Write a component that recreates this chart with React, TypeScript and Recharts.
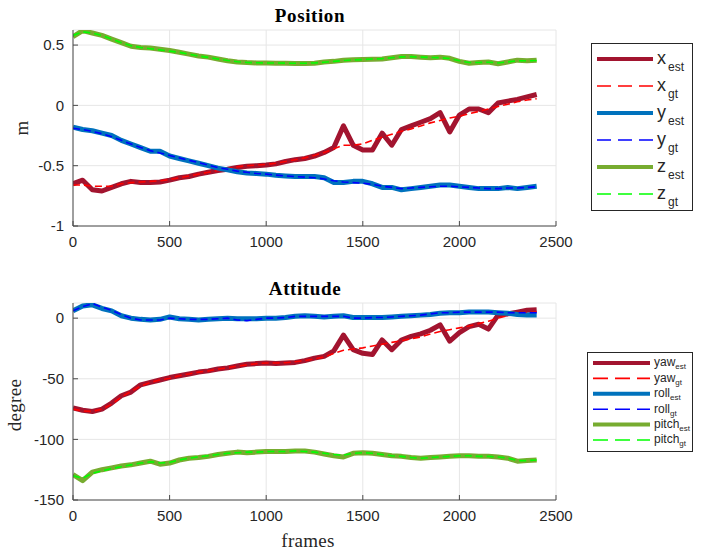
import { LineChart, Line, XAxis, YAxis, CartesianGrid } from 'recharts';

// frame index, sampled every 50 frames
const FRAMES = [
  0, 50, 100, 150, 200, 250, 300, 350, 400, 450, 500, 550, 600, 650, 700, 750, 800, 850, 900, 950,
  1000, 1050, 1100, 1150, 1200, 1250, 1300, 1350, 1400, 1450, 1500, 1550, 1600, 1650, 1700, 1750,
  1800, 1850, 1900, 1950, 2000, 2050, 2100, 2150, 2200, 2250, 2300, 2350, 2400,
];

// Position (m)
const X_EST = [
  -0.65, -0.62, -0.7, -0.71, -0.68, -0.65, -0.63, -0.64, -0.64, -0.635, -0.62, -0.6, -0.59, -0.57, -0.555,
  -0.54, -0.53, -0.515, -0.505, -0.5, -0.495, -0.485, -0.465, -0.45, -0.44, -0.42, -0.39, -0.35, -0.17,
  -0.33, -0.37, -0.37, -0.23, -0.33, -0.2, -0.17, -0.14, -0.11, -0.06, -0.22, -0.08, -0.03, -0.03, -0.06,
  0.02, 0.035, 0.05, 0.07, 0.09,
];
const X_GT = [
  -0.66, -0.66, -0.67, -0.67, -0.67, -0.65, -0.64, -0.635, -0.63, -0.625, -0.615, -0.6, -0.585, -0.57,
  -0.555, -0.54, -0.525, -0.51, -0.5, -0.495, -0.49, -0.48, -0.465, -0.45, -0.435, -0.415, -0.39, -0.36,
  -0.33, -0.33, -0.32, -0.29, -0.265, -0.24, -0.215, -0.195, -0.17, -0.145, -0.125, -0.105, -0.09, -0.07,
  -0.05, -0.03, -0.01, 0.01, 0.03, 0.045, 0.055,
];
const Y_EST = [
  -0.18, -0.2, -0.21, -0.23, -0.25, -0.29, -0.32, -0.35, -0.38, -0.38, -0.42, -0.44, -0.46, -0.48, -0.5,
  -0.52, -0.535, -0.55, -0.56, -0.565, -0.57, -0.58, -0.585, -0.59, -0.59, -0.59, -0.6, -0.64, -0.64,
  -0.63, -0.63, -0.65, -0.68, -0.68, -0.7, -0.69, -0.68, -0.67, -0.66, -0.66, -0.67, -0.68, -0.69, -0.69,
  -0.69, -0.68, -0.69, -0.68, -0.67,
];
const Y_GT = [
  -0.19, -0.2, -0.215, -0.235, -0.26, -0.29, -0.32, -0.35, -0.375, -0.395, -0.415, -0.435, -0.455, -0.475,
  -0.495, -0.515, -0.53, -0.545, -0.555, -0.565, -0.57, -0.578, -0.585, -0.59, -0.595, -0.6, -0.61,
  -0.625, -0.635, -0.64, -0.645, -0.655, -0.67, -0.68, -0.69, -0.685, -0.68, -0.675, -0.67, -0.67,
  -0.675, -0.68, -0.685, -0.69, -0.69, -0.685, -0.685, -0.68, -0.675,
];
const Z_EST = [
  0.57, 0.62, 0.6, 0.58, 0.55, 0.52, 0.49, 0.48, 0.475, 0.465, 0.455, 0.44, 0.425, 0.41, 0.4, 0.385, 0.37,
  0.36, 0.355, 0.352, 0.352, 0.35, 0.35, 0.348, 0.347, 0.35, 0.36, 0.365, 0.375, 0.378, 0.38, 0.383,
  0.385, 0.395, 0.405, 0.405, 0.4, 0.395, 0.4, 0.39, 0.365, 0.35, 0.355, 0.36, 0.345, 0.36, 0.375, 0.37,
  0.375,
];
const Z_GT = [
  0.58, 0.61, 0.6, 0.58, 0.55, 0.52, 0.495, 0.48, 0.47, 0.46, 0.45, 0.44, 0.425, 0.41, 0.398, 0.385, 0.372,
  0.362, 0.356, 0.353, 0.352, 0.351, 0.35, 0.349, 0.349, 0.352, 0.358, 0.365, 0.372, 0.377, 0.38, 0.384,
  0.388, 0.395, 0.402, 0.404, 0.4, 0.397, 0.396, 0.388, 0.37, 0.355, 0.356, 0.358, 0.352, 0.36, 0.37,
  0.37, 0.372,
];

// Attitude (degree)
const YAW_EST = [
  -74, -76, -77, -75, -70, -64, -61, -55, -53, -51, -49, -47.5, -46, -44.5, -43.5, -42, -41, -39.5, -38,
  -37.5, -37, -37.5, -37, -36.5, -35, -33, -31.5, -27, -14, -26, -29, -30, -18, -26, -18, -15, -13, -10,
  -5.5, -19, -12, -7, -5, -9, 2.5, 3.5, 5, 6.5, 7,
];
const YAW_GT = [
  -75, -76.5, -77, -75, -71, -65, -60.5, -56, -53, -51, -49.5, -47.5, -46, -44.5, -43.5, -42, -41, -39.5,
  -38.5, -37.5, -37, -37, -36.8, -36, -35, -33.5, -32, -29, -26.5, -25.5, -24.5, -23, -21.5, -20, -18.5,
  -17, -15.5, -13, -11, -9.5, -8, -6.5, -4.5, -2.5, 0, 2, 3.5, 4.5, 5,
];
const ROLL_EST = [
  6, 10, 11, 8, 6, 2, 0, -1, -1.5, -1, 1, -0.5, -1, -1.5, -1, -0.5, 0, -0.5, -0.5, -0.5, 0, 0, 0.5, 1.5, 2,
  1.5, 1, 1.5, 2, 0.5, 0.5, 0.5, 0.5, 1, 1.5, 2, 2.5, 3, 4, 4.5, 4.5, 5, 5, 5, 4.5, 4, 3, 2.5, 2.5,
];
const ROLL_GT = [
  6, 9.5, 12, 9, 6.5, 3, 0, -1.5, -1.5, -1.5, 0, -0.5, -1, -1, -1, -0.5, 0, -1.5, -2, -1, 0, 0, 0.5, 1.5,
  1.5, 1.5, 1.5, 1.5, 1.5, 0, 0, 0.5, 0.5, 1, 1.5, 2, 2.5, 3.5, 4.5, 4.5, 5, 5, 5, 5, 5, 4.5, 4.5, 4.5, 4.5,
];
const PITCH_EST = [
  -129, -134, -127, -125, -123.5, -122, -121, -119.5, -118, -120.5, -119.5, -117, -115.5, -115, -114,
  -112.5, -111.5, -110.5, -111, -110.5, -110, -110, -110, -109.5, -109.5, -110.5, -112, -113.5, -114.5,
  -111.5, -111, -111.5, -112.5, -113.5, -114, -115, -115.5, -115, -114.5, -114, -113.5, -113.5, -114,
  -114, -114.5, -115.5, -118, -117.5, -117,
];
const PITCH_GT = [
  -130, -132, -128, -126, -124, -122.5, -121, -119.5, -118.5, -119.5, -119, -117, -115.5, -114.5, -113.5,
  -112.5, -111.5, -111, -110.5, -110.5, -110, -110, -110, -109.5, -110, -110.5, -111.5, -112.5, -113,
  -111.5, -111, -111.5, -112.5, -113.5, -114, -115, -115.5, -115, -114.5, -114, -113.5, -113.5, -114,
  -114, -114.5, -115.5, -117.5, -117.5, -117,
];

const X_TICKS = [0, 500, 1000, 1500, 2000, 2500];
const POS_TICKS = [-1, -0.5, 0, 0.5];
const ATT_TICKS = [-150, -100, -50, 0];

const POS_LABELS = ['x', 'y', 'z'];
const ATT_LABELS = ['yaw', 'roll', 'pitch'];

const EST_COLORS = ['#A2142F', '#0072BD', '#77AC30'];
const GT_COLORS = ['#FF0000', '#0000FF', '#00FF00'];

const posData = FRAMES.map((f, i) => ({
  f,
  x_est: X_EST[i], x_gt: X_GT[i],
  y_est: Y_EST[i], y_gt: Y_GT[i],
  z_est: Z_EST[i], z_gt: Z_GT[i],
}));

const attData = FRAMES.map((f, i) => ({
  f,
  yaw_est: YAW_EST[i], yaw_gt: YAW_GT[i],
  roll_est: ROLL_EST[i], roll_gt: ROLL_GT[i],
  pitch_est: PITCH_EST[i], pitch_gt: PITCH_GT[i],
}));

const AXIS_COLOR = '#262626';
const AXIS_LINE = '#4a4a4a';
const GRID_COLOR = '#e6e6e6';
const TICK_FONT = { fill: AXIS_COLOR, fontSize: 15, fontFamily: '"Liberation Sans", Arial, sans-serif' };
const SERIF = '"Liberation Serif", "Times New Roman", serif';

function seriesLines(names: string[]) {
  const out: any[] = [];
  names.forEach((n, i) => {
    out.push(
      <Line key={n + '_est'} dataKey={n + '_est'} stroke={EST_COLORS[i]} strokeWidth={5}
        strokeLinejoin="round" dot={false} type="linear" isAnimationActive={false} />,
    );
    out.push(
      <Line key={n + '_gt'} dataKey={n + '_gt'} stroke={GT_COLORS[i]} strokeWidth={1.6}
        strokeDasharray="7 4" dot={false} type="linear" isAnimationActive={false} />,
    );
  });
  return out;
}

function Legend({ left, top, width, height, names, rowTop, rowGap, font, subFont, subDy, subDx, lineEnd, textX, dash }: any) {
  return (
    <svg style={{ position: 'absolute', left, top }} width={width} height={height}>
      <rect x={0.5} y={0.5} width={width - 1} height={height - 1} fill="#fff" stroke={AXIS_COLOR} strokeWidth={1} />
      {names.map((n: string, i: number) =>
        ['est', 'gt'].map((k, j) => {
          const cy = rowTop + rowGap * (i * 2 + j);
          return (
            <g key={n + k}>
              <line x1={6} x2={lineEnd} y1={cy} y2={cy}
                stroke={j === 0 ? EST_COLORS[i] : GT_COLORS[i]}
                strokeWidth={j === 0 ? 4 : 1.6}
                strokeDasharray={j === 0 ? undefined : dash} />
              <text x={textX} y={cy + font * 0.28} fontSize={font} fill={AXIS_COLOR}
                fontFamily='"Liberation Sans", Arial, sans-serif'>
                {n}
                <tspan fontSize={subFont} dy={subDy} dx={subDx}>{k}</tspan>
              </text>
            </g>
          );
        }),
      )}
    </svg>
  );
}

function Label({ text, x, y, rotate, bold, size }: any) {
  return (
    <div style={{
      position: 'absolute', left: x, top: y, whiteSpace: 'nowrap',
      transform: `translate(-50%, -50%)${rotate ? ' rotate(-90deg)' : ''}`,
      fontFamily: SERIF, fontSize: size, fontWeight: bold ? 700 : 400,
      letterSpacing: bold ? 0.6 : 0.3, color: bold ? '#000' : AXIS_COLOR, lineHeight: 1,
    }}>{text}</div>
  );
}

function Panel({ data, names, ticks, domain, top, height, margin }: any) {
  return (
    <div style={{ position: 'absolute', left: 0, top }}>
      <LineChart width={704} height={height} data={data} margin={margin}>
        <CartesianGrid stroke={GRID_COLOR} strokeWidth={1} />
        <XAxis dataKey="f" type="number" domain={[0, 2500]} ticks={X_TICKS} height={30}
          tick={TICK_FONT} tickSize={-5} tickMargin={15}
          axisLine={{ stroke: AXIS_LINE }} tickLine={{ stroke: AXIS_LINE }} allowDataOverflow />
        <YAxis type="number" domain={domain} ticks={ticks} width={50}
          tick={TICK_FONT} tickSize={-5} tickMargin={14}
          axisLine={{ stroke: AXIS_LINE }} tickLine={{ stroke: AXIS_LINE }} allowDataOverflow />
        {seriesLines(names)}
      </LineChart>
    </div>
  );
}

export default function App() {
  return (
    <div style={{ position: 'absolute', left: 0, top: 0, width: 704, height: 554, background: '#fff', overflow: 'hidden' }}>
      <Panel data={posData} names={POS_LABELS} ticks={POS_TICKS} domain={[-1, 0.625]}
        top={0} height={260} margin={{ top: 30, right: 148, bottom: 4, left: 23 }} />
      <Panel data={attData} names={ATT_LABELS} ticks={ATT_TICKS} domain={[-150, 12.5]}
        top={270} height={284} margin={{ top: 33, right: 148, bottom: 24, left: 23 }} />

      <Label text="Position" x={310} y={15} bold size={19} />
      <Label text="Attitude" x={305} y={288} bold size={19} />
      <Label text="m" x={21} y={128} rotate size={19} />
      <Label text="degree" x={14} y={405} rotate size={19} />
      <Label text="frames" x={308} y={540} size={19} />

      <Legend left={591} top={43} width={102} height={168} names={POS_LABELS}
        rowTop={16} rowGap={27} font={18} subFont={12} subDy={7} subDx={2} lineEnd={62} textX={66} dash="14 7" />
      <Legend left={587} top={352} width={106} height={100} names={ATT_LABELS}
        rowTop={11} rowGap={15.4} font={12} subFont={8} subDy={3} subDx={0} lineEnd={63} textX={67} dash="15 7" />
    </div>
  );
}
